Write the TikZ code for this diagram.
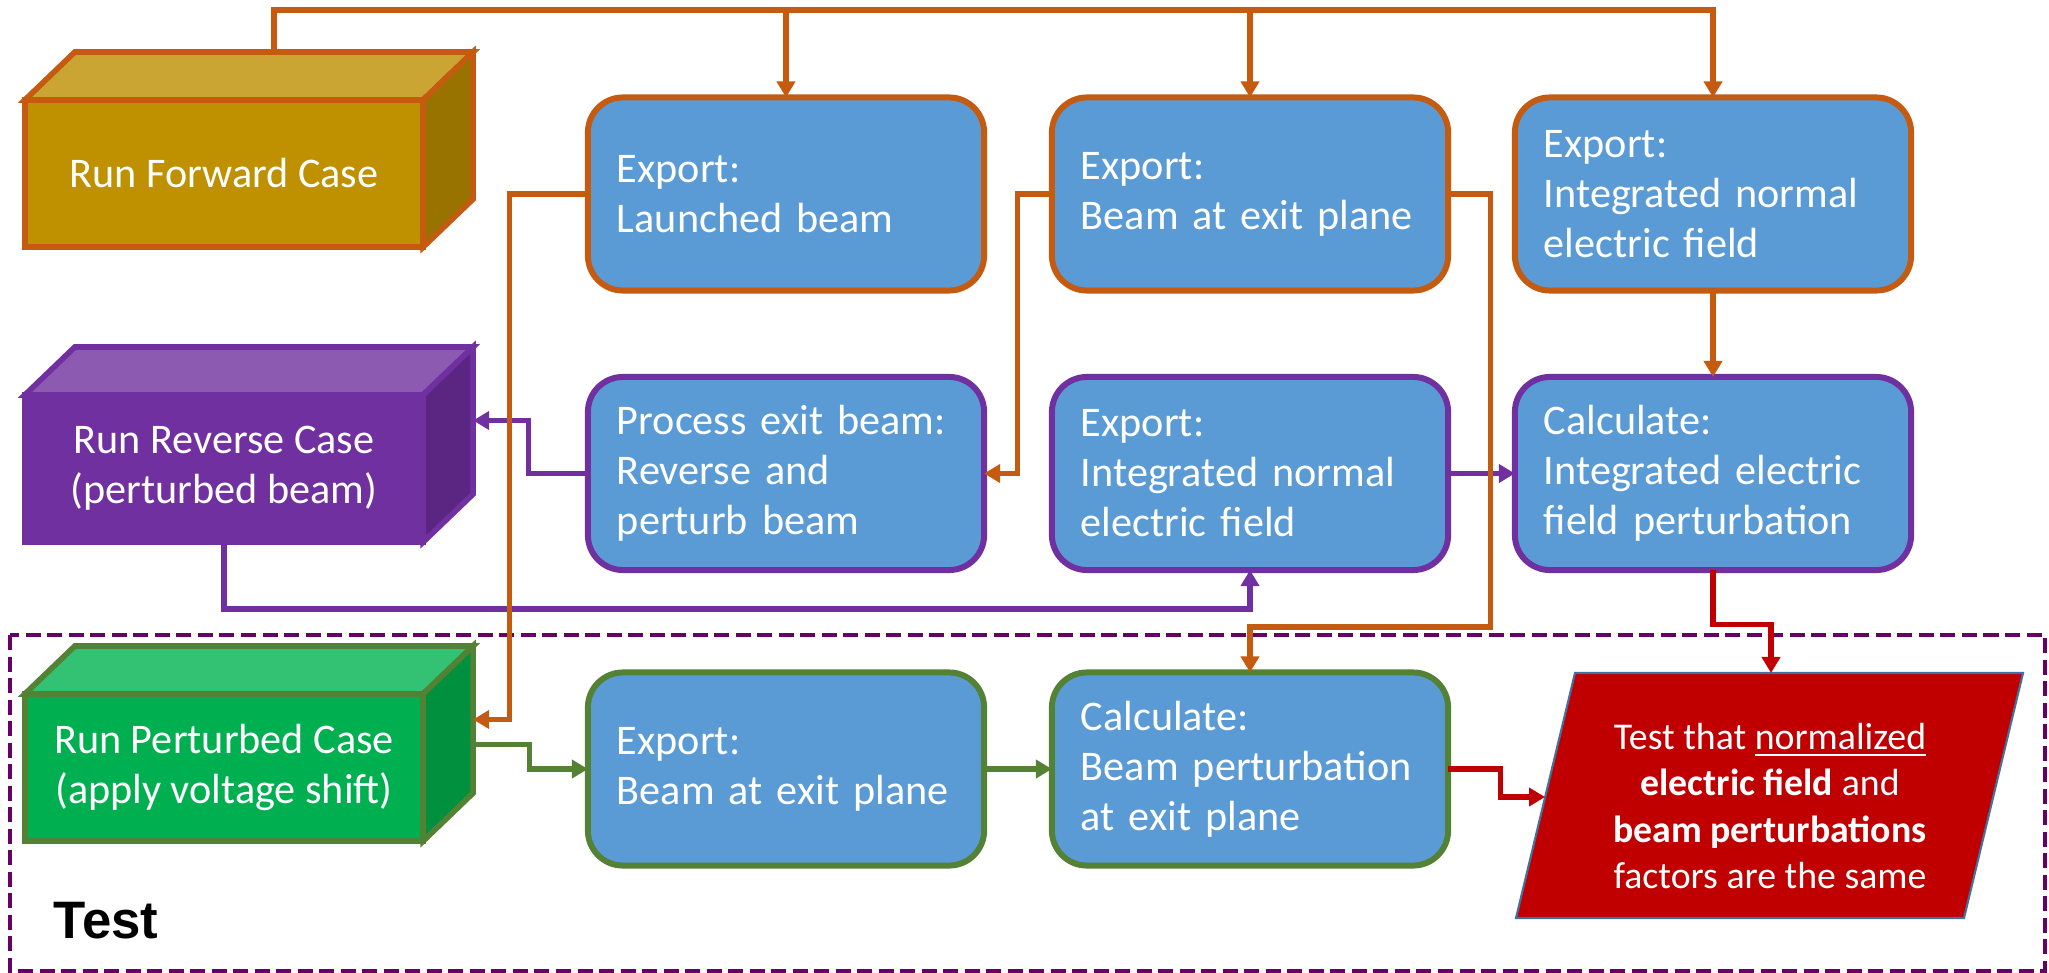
\documentclass[tikz,border=0pt]{standalone}
\usepackage{fontspec}
\setmainfont{Carlito}
\newfontfamily\arialfont{Liberation Sans}
\usetikzlibrary{arrows.meta,calc}
\definecolor{corange}{HTML}{C55A11}
\definecolor{cpurple}{HTML}{7030A0}
\definecolor{cgreen}{HTML}{548235}
\definecolor{cred}{HTML}{C00000}
\definecolor{boxblue}{HTML}{5B9BD5}
\definecolor{dashpurple}{HTML}{660066}
\definecolor{parborder}{HTML}{41719C}
\definecolor{fwdfront}{HTML}{BF9000}
\definecolor{fwdtop}{HTML}{CBA534}
\definecolor{fwdright}{HTML}{997300}
\definecolor{revfront}{HTML}{7030A0}
\definecolor{revtop}{HTML}{8C5BB1}
\definecolor{revright}{HTML}{5A2681}
\definecolor{pertfront}{HTML}{00B050}
\definecolor{perttop}{HTML}{33C173}
\definecolor{pertright}{HTML}{00903E}
\newcommand\boxfont{\fontsize{12}{14.2}\selectfont}
\newcommand\parfont{\fontsize{10.75}{13.1}\selectfont}
\newcommand\cubefaces[4]{%
  \draw[fill=#2, draw=#4, line width=1.6pt] (#1.north west) -- ++(50,-48) -- ($(#1.north east)+(50,-48)$) -- (#1.north east) -- cycle;
  \draw[fill=#3, draw=#4, line width=1.6pt] (#1.north east) -- ++(50,-48) -- ($(#1.south east)+(50,-48)$) -- (#1.south east) -- cycle;
  \coordinate (#1side) at ($(#1.east)+(50,-48)$);
  \coordinate (#1top) at ($(#1.north)+(50,-48)$);
}
\tikzset{
  bx/.style={rounded corners=0.35cm, fill=boxblue, line width=1.7pt,
    minimum width=3.96cm, minimum height=1.93cm, text width=3.38cm,
    inner xsep=0.29cm, inner ysep=0pt, outer sep=0pt, align=left, text=white, font=\boxfont},
  ob/.style={bx, draw=corange},
  pb/.style={bx, draw=cpurple},
  gb/.style={bx, draw=cgreen},
  front/.style={minimum width=3.98cm, minimum height=1.47cm, inner sep=0pt, outer sep=0pt,
    line width=1.6pt, text=white, align=center, font=\boxfont},
  con/.style={line width=1.45pt, -{Triangle[length=0.16cm,width=0.18cm]}},
  testbox/.style={draw=dashpurple, line width=1.4pt, dash pattern=on 0.15cm off 0.065cm}
}
\begin{document}
\begin{tikzpicture}[x=0.01cm,y=-0.01cm]
\useasboundingbox (0,0) rectangle (2049,973);
% test region
\draw[testbox] (10,635) rectangle (2045,971);
\node[anchor=base west, font=\arialfont\bfseries\fontsize{15}{18}\selectfont, inner sep=0pt] (testlbl) at (53,938) {Test};

% 3D boxes
\node[front, fill=fwdfront, draw=corange] (fwd) at (224,173.5) {Run Forward Case};
\cubefaces{fwd}{fwdtop}{fwdright}{corange}
\node[front, fill=revfront, draw=cpurple] (rev) at (224,468.5) {Run Reverse Case\\(perturbed beam)};
\cubefaces{rev}{revtop}{revright}{cpurple}
\node[front, fill=pertfront, draw=cgreen] (pert) at (224,767.5) {Run Perturbed Case\\(apply voltage shift)};
\cubefaces{pert}{perttop}{pertright}{cgreen}

% blue boxes
\node[ob] (b1) at (786,194) {Export:\\Launched beam};
\node[ob] (b2) at (1250,194) {Export:\\Beam at exit plane};
\node[ob] (b3) at (1713,194) {Export:\\Integrated normal\\electric field};
\node[pb] (b4) at (786,473.5) {Process exit beam:\\Reverse and\\perturb beam};
\node[pb] (b5) at (1250,473.5) {Export:\\Integrated normal\\electric field};
\node[pb] (b6) at (1713,473.5) {Calculate:\\Integrated electric\\field perturbation};
\node[gb] (b7) at (786,769) {Export:\\Beam at exit plane};
\node[gb] (b8) at (1250,769) {Calculate:\\Beam perturbation\\at exit plane};

% parallelogram
\draw[fill=cred, draw=parborder, line width=0.6pt] (1575,673) -- (2023,673) -- (1964,918) -- (1516,918) -- cycle;
\node[text=white, align=center, font=\parfont, inner sep=0pt] (par) at (1770,806)
  {Test that \underline{normalized}\\\textbf{electric field} and\\\textbf{beam perturbations}\\factors are the same};
\coordinate (partop) at (1771,673);
\coordinate (parleft) at (1545,797);
\coordinate (topbus) at (0,10);

% purple connectors
\draw[con, cpurple] (b4.west) -- ++(-59,0) |- (revside);
\draw[con, cpurple] (rev.south) -- ++(0,67) -| (b5.south);
\draw[con, cpurple] (b5.east) -- (b6.west);

% orange connectors
\draw[con, corange] (fwdtop) -- ++(0,-42) -| (b3.north);
\draw[con, corange] (b1.north |- topbus) -- (b1.north);
\draw[con, corange] (b2.north |- topbus) -- (b2.north);
\draw[con, corange] (b1.west) -- ++(-78,0) |- (pertside);
\draw[con, corange] (b2.west) -- ++(-34,0) |- (b4.east);
\draw[con, corange] (b2.east) -- ++(42,0) -- ++(0,433) -| (b8.north);
\draw[con, corange] (b3.south) -- (b6.north);

% green connectors
\draw[con, cgreen] ([yshift=-0.25cm]pertside) -- ++(56,0) |- (b7.west);
\draw[con, cgreen] (b7.east) -- (b8.west);

% red connectors
\draw[con, cred] (b6.south) -- ++(0,54) -| (partop);
\draw[con, cred] (b8.east) -- ++(52,0) |- (parleft);
\end{tikzpicture}
\end{document}
